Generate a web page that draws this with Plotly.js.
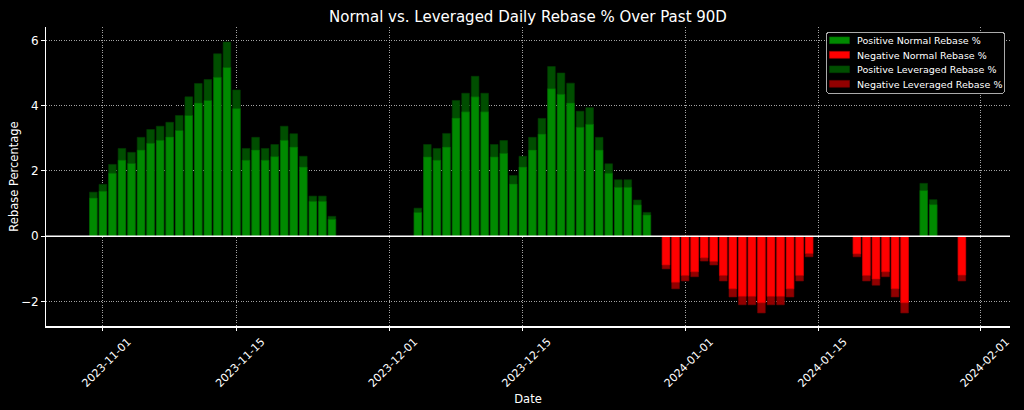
<!DOCTYPE html>
<html>
<head>
<meta charset="utf-8">
<script src="https://cdn.plot.ly/plotly-3.0.1.min.js"></script>
<style>
  html, body { margin: 0; padding: 0; background: #000; }
  #chart { width: 1024px; height: 410px; }
</style>
</head>
<body>
<div id="chart"></div>
<script>
// days that have a rebase value
const dates = [
  '2023-10-31', '2023-11-01', '2023-11-02', '2023-11-03', '2023-11-04', '2023-11-05',
  '2023-11-06', '2023-11-07', '2023-11-08', '2023-11-09', '2023-11-10', '2023-11-11',
  '2023-11-12', '2023-11-13', '2023-11-14', '2023-11-15', '2023-11-16', '2023-11-17',
  '2023-11-18', '2023-11-19', '2023-11-20', '2023-11-21', '2023-11-22', '2023-11-23',
  '2023-11-24', '2023-11-25',
  '2023-12-04', '2023-12-05', '2023-12-06', '2023-12-07', '2023-12-08', '2023-12-09',
  '2023-12-10', '2023-12-11', '2023-12-12', '2023-12-13', '2023-12-14', '2023-12-15',
  '2023-12-16', '2023-12-17', '2023-12-18', '2023-12-19', '2023-12-20', '2023-12-21',
  '2023-12-22', '2023-12-23', '2023-12-24', '2023-12-25', '2023-12-26', '2023-12-27',
  '2023-12-28', '2023-12-30', '2023-12-31',
  '2024-01-01', '2024-01-02', '2024-01-03', '2024-01-04', '2024-01-05', '2024-01-06',
  '2024-01-07', '2024-01-08', '2024-01-09', '2024-01-10', '2024-01-11', '2024-01-12',
  '2024-01-13', '2024-01-14',
  '2024-01-19', '2024-01-20', '2024-01-21', '2024-01-22', '2024-01-23', '2024-01-24',
  '2024-01-26', '2024-01-27', '2024-01-30'
];

// normal daily rebase %
const normalRebase = [
  1.17, 1.38, 1.93, 2.33, 2.23, 2.64,
  2.85, 2.94, 3.04, 3.24, 3.70, 4.08,
  4.16, 4.87, 5.17, 3.91, 2.33, 2.64,
  2.33, 2.44, 2.94, 2.73, 2.12, 1.07,
  1.07, 0.52,
  0.73, 2.43, 2.33, 2.73, 3.62, 3.81,
  4.27, 3.81, 2.43, 2.54, 1.60, 2.12,
  2.64, 3.13, 4.52, 4.35, 4.08, 3.34,
  3.43, 2.64, 1.93, 1.50, 1.50, 0.96,
  0.65, -0.88, -1.41,
  -1.20, -1.09, -0.66, -0.77, -1.20, -1.61,
  -1.84, -1.84, -2.04, -1.84, -1.84, -1.61,
  -1.20, -0.53,
  -0.54, -1.20, -1.31, -1.09, -1.61, -2.04,
  1.40, 0.97, -1.19
];

// leveraged daily rebase %
const leveragedRebase = [
  1.35, 1.59, 2.20, 2.69, 2.57, 3.03,
  3.27, 3.37, 3.49, 3.70, 4.27, 4.68,
  4.80, 5.59, 5.95, 4.48, 2.69, 3.03,
  2.69, 2.81, 3.37, 3.14, 2.45, 1.23,
  1.23, 0.61,
  0.86, 2.81, 2.69, 3.15, 4.16, 4.38,
  4.90, 4.38, 2.81, 2.93, 1.86, 2.45,
  3.03, 3.61, 5.20, 5.00, 4.69, 3.83,
  3.94, 3.03, 2.22, 1.73, 1.73, 1.11,
  0.73, -1.00, -1.61,
  -1.37, -1.24, -0.76, -0.88, -1.37, -1.86,
  -2.10, -2.10, -2.35, -2.10, -2.10, -1.86,
  -1.37, -0.63,
  -0.63, -1.37, -1.50, -1.24, -1.86, -2.35,
  1.62, 1.12, -1.37
];

const xTickVals = ['2023-11-01', '2023-11-15', '2023-12-01', '2023-12-15',
                   '2024-01-01', '2024-01-15', '2024-02-01'];
const yTickVals = [-2, 0, 2, 4, 6];
const yTickText = ['\u22122', '0', '2', '4', '6'];

const DAY = 86400000;
const barWidth = 0.8 * DAY;

// split a series into positive and negative parts
function pick(values, positive) {
  let x = [], y = [];
  values.forEach((v, i) => {
    if ((positive && v >= 0) || (!positive && v < 0)) {
      x.push(dates[i]);
      y.push(v);
    }
  });
  return {x: x, y: y};
}

function barTrace(name, values, positive, color, lineColor, rank) {
  let d = pick(values, positive);
  return {
    type: 'bar',
    name: name,
    x: d.x,
    y: d.y,
    width: barWidth,
    legendrank: rank,
    marker: {color: color, line: {color: lineColor, width: 0.6}},
    hoverinfo: 'x+y+name'
  };
}

// leveraged first so the normal bars sit on top of them
const traces = [
  barTrace('Positive Leveraged Rebase %', leveragedRebase, true, 'rgb(0,78,0)', 'rgb(0,60,0)', 3),
  barTrace('Negative Leveraged Rebase %', leveragedRebase, false, 'rgb(145,0,0)', 'rgb(120,0,0)', 4),
  barTrace('Positive Normal Rebase %', normalRebase, true, 'rgb(0,138,0)', 'rgb(0,95,0)', 1),
  barTrace('Negative Normal Rebase %', normalRebase, false, 'rgb(255,0,0)', 'rgb(200,0,0)', 2)
];

const font = 'DejaVu Sans, sans-serif';
const gridColor = 'rgba(205,205,205,0.8)';

const layout = {
  width: 1024,
  height: 410,
  paper_bgcolor: '#000',
  plot_bgcolor: '#000',
  barmode: 'overlay',
  bargap: 0,
  font: {family: font, color: '#fff', size: 11},
  margin: {l: 46, r: 14, t: 27, b: 84},
  title: {
    text: 'Normal vs. Leveraged Daily Rebase % Over Past 90D',
    font: {family: font, size: 15, color: '#fff'},
    x: 0.5, xref: 'paper',
    y: 1 - 17 / 410, yref: 'container', yanchor: 'middle'
  },
  xaxis: {
    type: 'date',
    range: ['2023-10-26 01:00', '2024-02-04 01:00'],
    tickmode: 'array',
    tickvals: xTickVals,
    ticktext: xTickVals,
    tickangle: -45,
    tickfont: {family: font, size: 11, color: '#fff'},
    ticklabelshift: 25,
    ticks: 'outside',
    ticklen: 3.5,
    tickcolor: '#fff',
    showline: true,
    linecolor: '#fff',
    linewidth: 1.5,
    showgrid: true,
    gridcolor: gridColor,
    griddash: '1px,1.5px',
    gridwidth: 1,
    zeroline: false,
    title: {text: 'Date', font: {family: font, size: 11.5, color: '#fff'}, standoff: 6}
  },
  yaxis: {
    range: [-2.75, 6.41],
    tickmode: 'array',
    tickvals: yTickVals,
    ticktext: yTickText,
    tickfont: {family: font, size: 12, color: '#fff'},
    ticks: 'outside',
    ticklen: 3.5,
    tickcolor: '#fff',
    showline: true,
    linecolor: '#fff',
    linewidth: 1.5,
    showgrid: true,
    gridcolor: gridColor,
    griddash: '1px,1.5px',
    gridwidth: 1,
    zeroline: false,
    title: {text: 'Rebase Percentage', font: {family: font, size: 11.5, color: '#fff'}, standoff: 0}
  },
  shapes: [{
    // horizontal line at zero, drawn above the bars
    type: 'line', xref: 'paper', x0: 0, x1: 1, yref: 'y', y0: 0, y1: 0,
    line: {color: '#fff', width: 1.5}, layer: 'above'
  }],
  legend: {
    x: 0.9938, xanchor: 'right',
    y: 0.984, yanchor: 'top',
    bgcolor: '#000',
    bordercolor: 'rgba(200,200,200,0.85)',
    borderwidth: 1,
    font: {family: font, size: 9.5, color: '#fff'},
    traceorder: 'normal'
  },
  showlegend: true
};

// plotly keeps legend rows at least 19px apart; squeeze them like the original
function tidyLegend(gd) {
  const lg = gd.querySelector('g.legend');
  if (!lg) return;
  const rowH = 14.5;
  lg.setAttribute('transform', 'translate(826,31.7)');
  const bg = lg.querySelector('rect.bg');
  if (bg) {
    bg.setAttribute('x', 0.5);
    bg.setAttribute('y', 0.5);
    bg.setAttribute('width', 178);
    bg.setAttribute('height', 61);
    bg.setAttribute('rx', 3);
  }
  const sb = lg.querySelector('g.scrollbox');
  if (sb) sb.setAttribute('transform', 'translate(0,0)');
  lg.querySelectorAll('g.traces').forEach((t, i) => {
    t.setAttribute('transform', 'translate(0,' + (8.6 + i * rowH) + ')');
    const txt = t.querySelector('text.legendtext');
    if (txt) txt.setAttribute('x', 31);
    t.querySelectorAll('.legendpoints path').forEach(p => {
      p.setAttribute('d', 'M10,3.4H-10V-3.4H10Z');
      p.setAttribute('transform', 'translate(13.5,0)');
    });
  });
}

Plotly.newPlot('chart', traces, layout, {displayModeBar: false, staticPlot: true})
  .then(tidyLegend);
</script>
</body>
</html>
